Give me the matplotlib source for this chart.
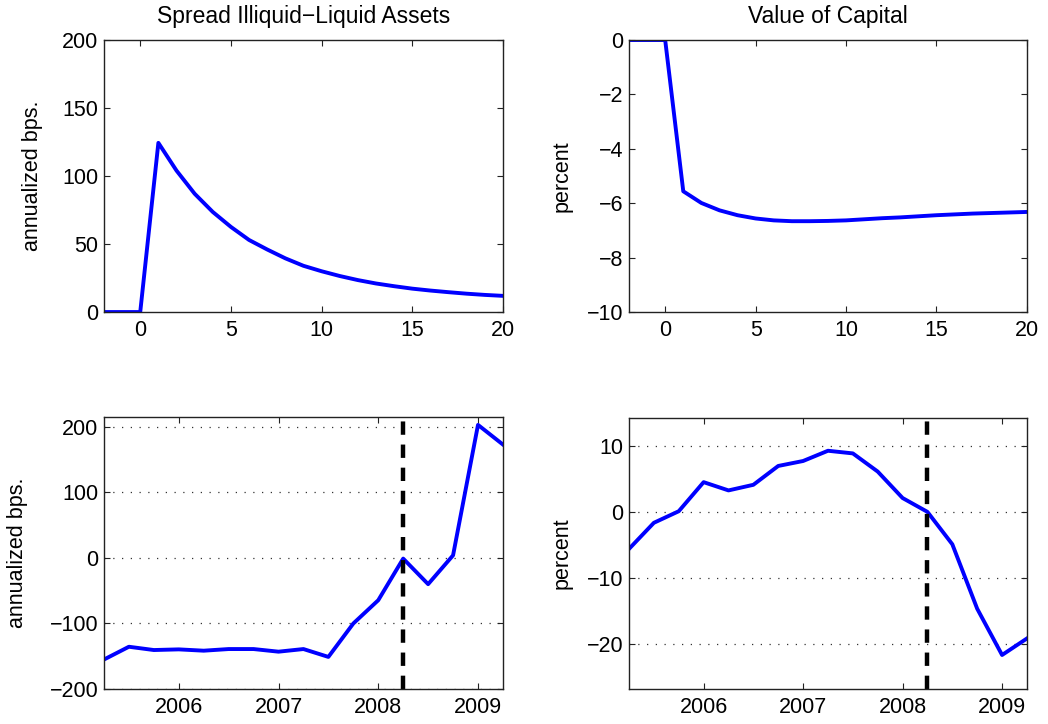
import numpy as np
import matplotlib
matplotlib.use('Agg')
import matplotlib.pyplot as plt

plt.rcParams['font.family'] = ['Liberation Sans', 'DejaVu Sans']

# impulse responses, horizon -2..20
horizon = list(range(-2, 21))
spread_irf = [0, 0, 0, 124.4, 104, 87, 73.6, 62.6, 53, 46, 39.5, 34, 30,
              26.5, 23.5, 21, 19, 17.2, 15.8, 14.6, 13.5, 12.6, 11.9]
capital_irf = [0, 0, 0, -5.56, -5.99, -6.26, -6.44, -6.56, -6.63, -6.66, -6.66,
               -6.65, -6.63, -6.59, -6.55, -6.52, -6.48, -6.44, -6.41, -6.38,
               -6.36, -6.34, -6.32]

# quarterly data 2005Q2..2009Q2
quarters = [2005.25, 2005.5, 2005.75, 2006.0, 2006.25, 2006.5, 2006.75, 2007.0,
            2007.25, 2007.5, 2007.75, 2008.0, 2008.25, 2008.5, 2008.75, 2009.0, 2009.25]
spread_data = [-155, -135.5, -140.5, -139.5, -141.5, -139, -139, -143, -139,
               -151, -100, -64.5, -1, -40, 4, 203, 173]
capital_data = [-5.6, -1.65, 0.1, 4.5, 3.25, 4.1, 6.95, 7.7, 9.25, 8.85,
                6.1, 2.1, 0, -4.9, -14.65, -21.65, -19.15]
event_date = 2008.25

blue = '#0000ff'
fs = 15.5
title_fs = 16.5
label_fs = 15.5

fig = plt.figure(figsize=(10.48, 7.24), dpi=100)
ax_tl = fig.add_axes([0.0992, 0.569, 0.3807, 0.3757])
ax_tr = fig.add_axes([0.6002, 0.569, 0.3797, 0.3757])
ax_bl = fig.add_axes([0.0992, 0.0483, 0.3807, 0.3757])
ax_br = fig.add_axes([0.6002, 0.0483, 0.3797, 0.3743])


def style(ax):
    ax.tick_params(direction='in', top=True, right=True, length=4, width=0.8,
                   labelsize=fs, color='#222222')
    ax.tick_params(axis='x', pad=6)
    ax.tick_params(axis='y', pad=4)
    for s in ax.spines.values():
        s.set_linewidth(1.0)
        s.set_color('#222222')


ax_tl.plot(horizon, spread_irf, color=blue, lw=2.8)
ax_tl.set_xlim(-2, 20)
ax_tl.set_ylim(0, 200)
ax_tl.set_xticks([0, 5, 10, 15, 20])
ax_tl.set_yticks([0, 50, 100, 150, 200])
ax_tl.set_title('Spread Illiquid\u2212Liquid Assets', fontsize=title_fs, pad=12)
ax_tl.set_ylabel('annualized bps.', fontsize=label_fs)
ax_tl.yaxis.set_label_coords(-0.153, 0.5)

ax_tr.plot(horizon, capital_irf, color=blue, lw=2.8)
ax_tr.set_xlim(-2, 20)
ax_tr.set_ylim(-10, 0)
ax_tr.set_xticks([0, 5, 10, 15, 20])
ax_tr.set_yticks([-10, -8, -6, -4, -2, 0])
ax_tr.set_title('Value of Capital', fontsize=title_fs, pad=12)
ax_tr.set_ylabel('percent', fontsize=label_fs)
ax_tr.yaxis.set_label_coords(-0.143, 0.5)

ax_bl.plot(quarters, spread_data, color=blue, lw=2.8)
ax_bl.axvline(event_date, color='black', ls='--', lw=3.2, dashes=(3, 2.2))
ax_bl.set_xlim(2005.25, 2009.25)
ax_bl.set_ylim(-200, 215)
ax_bl.set_xticks([2006, 2007, 2008, 2009])
ax_bl.set_yticks([-200, -100, 0, 100, 200])
ax_bl.grid(axis='y', color='#333333', lw=0.9, dashes=(1, 6))
ax_bl.set_ylabel('annualized bps.', fontsize=label_fs)
ax_bl.yaxis.set_label_coords(-0.19, 0.5)

ax_br.plot(quarters, capital_data, color=blue, lw=2.8)
ax_br.axvline(event_date, color='black', ls='--', lw=3.2, dashes=(3, 2.2))
ax_br.set_xlim(2005.25, 2009.25)
ax_br.set_ylim(-26.8, 14.2)
ax_br.set_xticks([2006, 2007, 2008, 2009])
ax_br.set_yticks([-20, -10, 0, 10])
ax_br.grid(axis='y', color='#333333', lw=0.9, dashes=(1, 6))
ax_br.set_ylabel('percent', fontsize=label_fs)
ax_br.yaxis.set_label_coords(-0.143, 0.5)

for ax in (ax_tl, ax_tr, ax_bl, ax_br):
    style(ax)

fig.savefig('out.png', dpi=100)
